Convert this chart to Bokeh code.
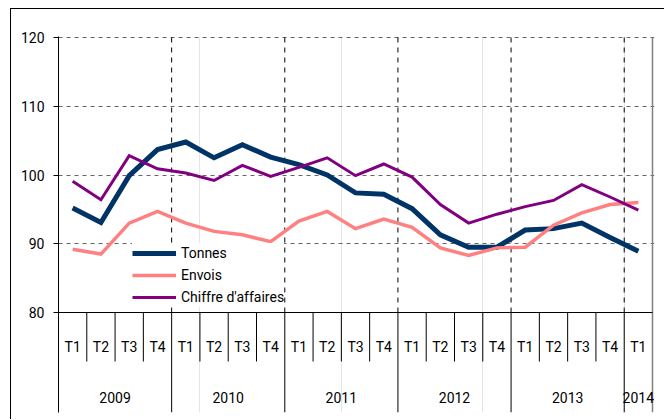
from bokeh.plotting import figure
from bokeh.models import Range1d, FixedTicker, Legend, LegendItem
from bokeh.core.properties import value
from bokeh.embed import file_html
from bokeh.resources import INLINE

# ---------------- data ----------------
years = ["2009", "2010", "2011", "2012", "2013", "2014"]
quarters_per_year = [4, 4, 4, 4, 4, 1]
quarter_labels = ["T1", "T2", "T3", "T4"] * 5 + ["T1"]

tonnes = [95.2, 93.1, 99.9, 103.7, 104.8, 102.5, 104.4, 102.6,
          101.5, 100.0, 97.4, 97.2, 95.1, 91.3, 89.5, 89.5,
          92.0, 92.2, 93.0, 90.9, 88.9]
envois = [89.2, 88.5, 93.0, 94.7, 93.0, 91.8, 91.3, 90.3,
          93.3, 94.7, 92.2, 93.6, 92.4, 89.4, 88.3, 89.4,
          89.5, 92.7, 94.5, 95.7, 96.0]
chiffre = [99.1, 96.4, 102.8, 100.9, 100.3, 99.2, 101.4, 99.8,
           101.1, 102.5, 99.9, 101.6, 99.7, 95.7, 93.0, 94.3,
           95.4, 96.3, 98.6, 96.8, 94.9]

y_ticks = [80, 90, 100, 110, 120]
y_grid = [90, 100, 110, 120]
series_names = ["Tonnes", "Envois", "Chiffre d'affaires"]
series_colors = ["#003366", "#FF8080", "#800080"]
series_widths = [5, 3.5, 3]

FONT = "Roboto"
FSIZE = "14px"

# ---------------- layout constants ----------------
n = len(quarter_labels)
YPX = 275 / 40.0          # px per y unit
XPX = 594 / n             # px per category
y_min, y_max = 80, 120
table_depth = 100 / YPX   # table below the axis, in y units
sep_depth = 49 / YPX
qlab_depth = 34 / YPX
ylab_depth = 85 / YPX

p = figure(width=654, height=411, output_backend="svg", toolbar_location=None,
           x_range=Range1d(0, n + 2 / XPX),
           y_range=Range1d(y_min - table_depth, y_max + 1 / YPX),
           x_axis_location=None,
           min_border_left=47, min_border_right=11,
           min_border_top=27, min_border_bottom=8)
p.outline_line_color = None
p.background_fill_color = "white"
p.border_fill_color = "white"
p.margin = (8, 0, 0, 10)
p.styles = {"border-left": "1px solid black", "border-top": "1px solid black"}

# y axis
yax = p.yaxis[0]
yax.ticker = FixedTicker(ticks=y_ticks)
yax.minor_tick_line_color = None
yax.major_tick_in = 0
yax.major_tick_out = 5
yax.major_label_standoff = 9
yax.axis_line_color = "black"
yax.major_tick_line_color = "black"
yax.major_label_text_font = FONT
yax.major_label_text_font_size = FSIZE
yax.major_label_text_color = "black"

# horizontal grid
p.ygrid.ticker = FixedTicker(ticks=y_grid)
p.ygrid.grid_line_color = "#666666"
p.ygrid.grid_line_dash = "4 4"
p.ygrid.grid_line_width = 1

# year boundaries
bounds = []
acc = 0
for q in quarters_per_year:
    bounds.append(acc)
    acc += q
year_centers = [b + q / 2 for b, q in zip(bounds, quarters_per_year)]
inner_year_bounds = [b for b in bounds if b > 0]

# vertical dashed year gridlines in the chart area
p.segment(x0=inner_year_bounds, x1=inner_year_bounds,
          y0=[y_min] * len(inner_year_bounds), y1=[y_max] * len(inner_year_bounds),
          line_color="black", line_dash="5 5", line_width=1)

# right border
p.segment(x0=[n], x1=[n], y0=[y_max], y1=[y_min - table_depth],
          line_color="#808080", line_width=1.5)

# x axis line
p.segment(x0=[0], x1=[n], y0=[y_min], y1=[y_min], line_color="black", line_width=1)

# quarter separators
qseps = [i for i in range(1, n) if i not in inner_year_bounds]
p.segment(x0=qseps, x1=qseps, y0=[y_min] * len(qseps), y1=[y_min - sep_depth] * len(qseps),
          line_color="black", line_width=1)
# year separators
p.segment(x0=inner_year_bounds, x1=inner_year_bounds,
          y0=[y_min] * len(inner_year_bounds), y1=[y_min - table_depth] * len(inner_year_bounds),
          line_color="black", line_width=1)

# quarter labels
xs = [i + 0.5 for i in range(n)]
p.text(x=xs, y=[y_min - qlab_depth] * n, text=quarter_labels,
       text_font=value(FONT), text_font_size=FSIZE, text_color="black",
       text_align="center", text_baseline="middle")
# year labels
p.text(x=year_centers, y=[y_min - ylab_depth] * len(years), text=years,
       text_font=value(FONT), text_font_size=FSIZE, text_color="black",
       text_align="center", text_baseline="middle")

# series
items = []
for name, vals, col, w in zip(series_names, [tonnes, envois, chiffre], series_colors, series_widths):
    r = p.line(x=xs, y=vals, line_color=col, line_width=w, line_join="miter")
    items.append(LegendItem(label=name, renderers=[r]))

legend = Legend(items=items, location=(74, 105), orientation="vertical",
                glyph_width=44, glyph_height=20, label_standoff=5, spacing=2,
                padding=6, margin=0, border_line_color=None,
                background_fill_color="white", background_fill_alpha=1.0,
                label_text_font=FONT, label_text_font_size=FSIZE,
                label_text_color="black")
p.add_layout(legend)

open("out.html", "w").write(file_html(p, INLINE))
